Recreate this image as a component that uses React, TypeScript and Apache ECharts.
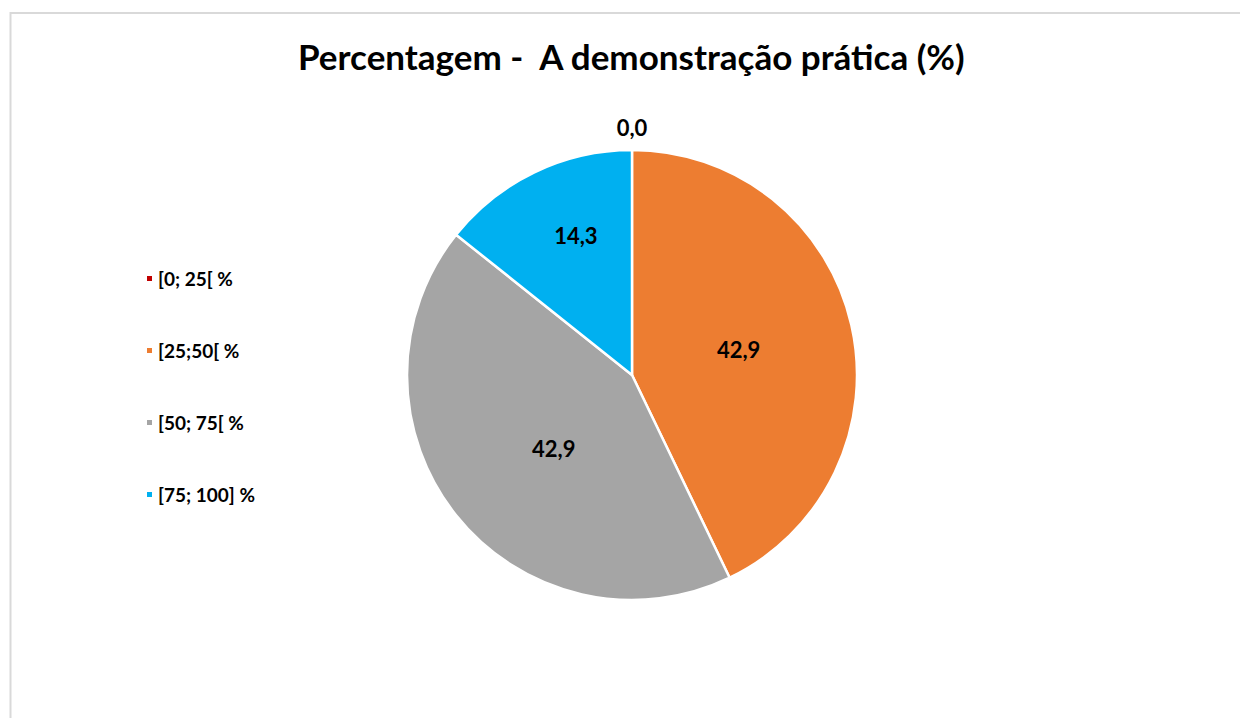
import React, { useEffect, useRef } from "react";
import * as echarts from "echarts";

const titleText = "Percentagem -  A demonstração prática (%)";
const categories = ["[0; 25[ %", "[25;50[ %", "[50; 75[ %", "[75; 100] %"];
const values = [0.0, 42.9, 42.9, 14.3];
const colors = ["#C00000", "#ED7D31", "#A5A5A5", "#00B0F0"];
// nudges that move each label to the spot Excel chose
const labelShifts = [
  [0, -132],
  [-6, 0],
  [12, 1],
  [-6, -35],
];

const FONT = "Lato, 'Open Sans', 'DejaVu Sans', sans-serif";

export default function App() {
  const ref = useRef<HTMLDivElement>(null);
  useEffect(() => {
    if (!ref.current) return;
    const chart = echarts.init(ref.current, undefined, { renderer: "svg" });
    chart.setOption({
      animation: false,
      backgroundColor: "#ffffff",
      title: {
        text: titleText,
        left: 298,
        top: 38,
        padding: 0,
        textStyle: {
          fontFamily: FONT,
          fontWeight: "bold",
          fontSize: 35,
          color: "#000000",
        },
      },
      legend: {
        orient: "vertical",
        left: 140,
        top: 264,
        itemWidth: 7,
        itemHeight: 7,
        itemGap: 53,
        itemTextGap: 9,
        icon: "rect",
        data: categories,
        textStyle: {
          fontFamily: FONT,
          fontWeight: "bold",
          fontSize: 19,
          lineHeight: 18,
          color: "#000000",
        },
      },
      graphic: [
        {
          type: "rect",
          shape: { x: 10.5, y: 13, width: 1300, height: 800 },
          style: { fill: "none", stroke: "#d9d9d9", lineWidth: 2 },
          silent: true,
        },
      ],
      series: [
        {
          type: "pie",
          center: [632, 375],
          radius: [0, 225],
          startAngle: 90,
          clockwise: true,
          avoidLabelOverlap: false,
          labelLine: { show: false },
          itemStyle: { borderColor: "#ffffff", borderWidth: 2.5 },
          labelLayout: (p: any) => ({
            dx: labelShifts[p.dataIndex][0],
            dy: labelShifts[p.dataIndex][1],
          }),
          label: {
            show: true,
            position: "inside",
            formatter: (p: any) => p.value.toFixed(1).replace(".", ","),
            fontFamily: FONT,
            fontWeight: "bold",
            fontSize: 22,
            color: "#000000",
          },
          data: categories.map((name, i) => ({
            name,
            value: values[i],
            itemStyle: { color: colors[i] },
          })),
        },
      ],
    });
    return () => chart.dispose();
  }, []);
  return (
    <div
      ref={ref}
      style={{ position: "absolute", left: 0, top: 0, width: 1240, height: 718 }}
    />
  );
}
